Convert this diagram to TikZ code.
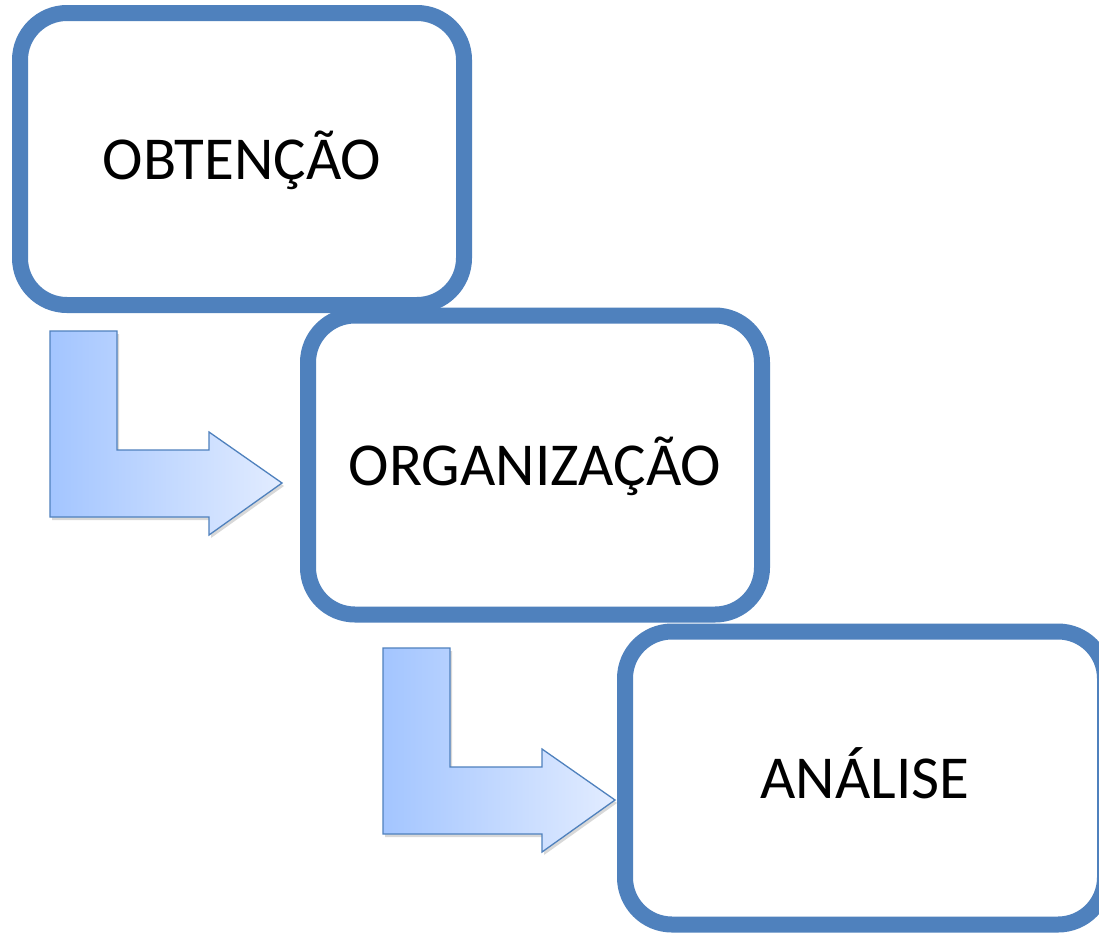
\documentclass[tikz,border=0pt]{standalone}
\usepackage{fontspec}
\setmainfont{Carlito}
\usetikzlibrary{shadows}
\definecolor{boxblue}{RGB}{79,129,189}
\definecolor{arrowleft}{RGB}{163,197,255}
\definecolor{arrowright}{RGB}{226,236,255}
\begin{document}
\begin{tikzpicture}[x=1pt, y=-1pt,
		stage/.style={draw=boxblue, line width=16pt, rounded corners=47pt, fill=white,
			font=\fontsize{61}{72}\selectfont, text=black, inner sep=0pt,
			text height=52pt, text depth=12pt},
		bentarrow/.style={draw=boxblue, line width=1.3pt, left color=arrowleft, right color=arrowright,
			drop shadow={opacity=0.3, shadow xshift=2pt, shadow yshift=-3pt}}]
	\clip (0,0) rectangle (1099,932);
	\fill[white] (0,0) rectangle (1099,932);
	% bent arrows
	\foreach \dx/\dy in {0/0, 333/317}
		\shade[bentarrow, shift={(\dx,\dy)}] (50,331) -- (117,331) -- (117,450) -- (209,450) -- (209,432)
			-- (282,483) -- (209,535) -- (209,517) -- (50,517) -- cycle;
	% stages
	\node[stage, minimum width=444pt, minimum height=292pt] (obtencao) at (242,159) {OBTENÇÃO};
	\node[stage, minimum width=454pt, minimum height=299pt] (organizacao) at (535,465) {ORGANIZAÇÃO};
	\node[stage, minimum width=480pt, minimum height=293pt] (analise) at (865,778) {ANÁLISE};
\end{tikzpicture}
\end{document}
